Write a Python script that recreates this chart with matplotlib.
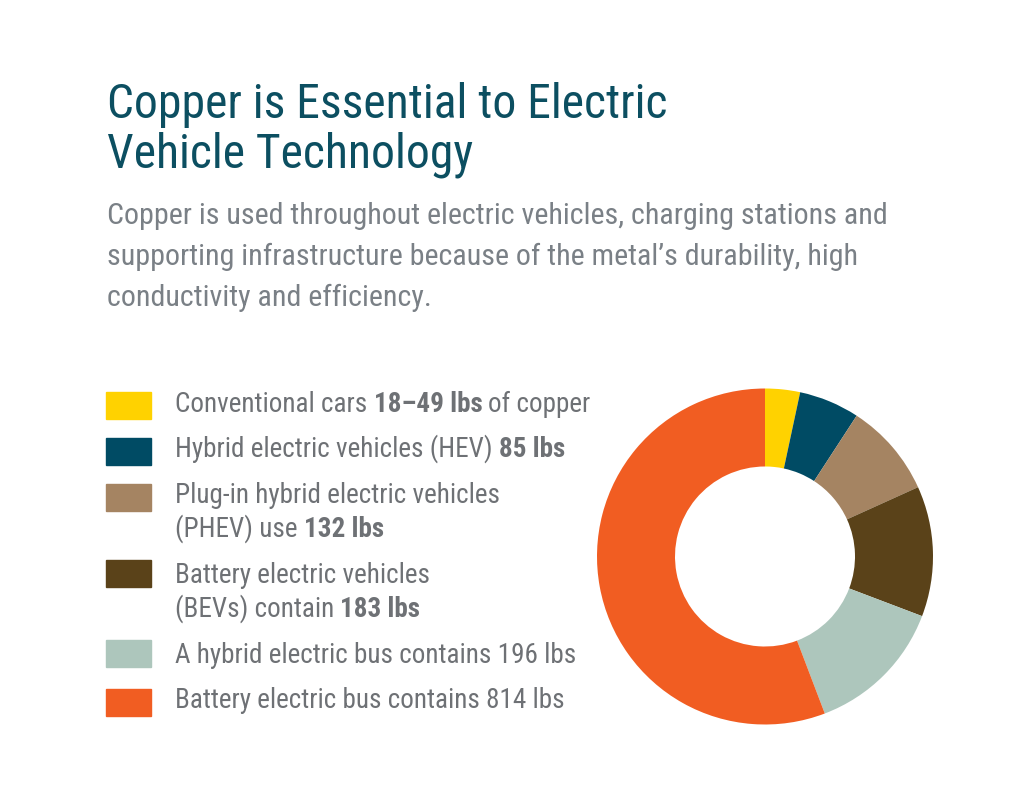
import matplotlib

matplotlib.use("Agg")
import matplotlib.pyplot as plt
from matplotlib import font_manager

# chart data
categories = [
    "Conventional cars",
    "Hybrid electric vehicles (HEV)",
    "Plug-in hybrid electric vehicles (PHEV)",
    "Battery electric vehicles (BEVs)",
    "Hybrid electric bus",
    "Battery electric bus",
]
copper_lbs = [49, 85, 132, 183, 196, 814]
slice_colors = ["#FFD200", "#004B64", "#A58462", "#5A4219", "#ADC6BC", "#F15D22"]

# legend text, one list of lines per item, (text, bold) segments per line
legend_text = [
    [[("Conventional cars", False), ("18–49 lbs", True), ("of copper", False)]],
    [[("Hybrid electric vehicles (HEV)", False), ("85 lbs", True)]],
    [[("Plug-in hybrid electric vehicles", False)],
     [("(PHEV) use", False), ("132 lbs", True)]],
    [[("Battery electric vehicles", False)],
     [("(BEVs) contain", False), ("183 lbs", True)]],
    [[("A hybrid electric bus contains 196 lbs", False)]],
    [[("Battery electric bus contains 814 lbs", False)]],
]

title_lines = ["Copper is Essential to Electric", "Vehicle Technology"]
subtitle_lines = [
    "Copper is used throughout electric vehicles, charging stations and",
    "supporting infrastructure because of the metal’s durability, high",
    "conductivity and efficiency.",
]

W, H = 1024, 789
TITLE_COLOR = "#0C4F61"
SUB_COLOR = "#7A8086"
TEXT_COLOR = "#6E7175"

# pick a narrow font if one is around
names = {f.name for f in font_manager.fontManager.ttflist}
dejavu_cond = any(
    f.name == "DejaVu Sans" and "condensed" in str(f.stretch).lower()
    for f in font_manager.fontManager.ttflist
)
FAMILY, STRETCH = "DejaVu Sans", "normal"
for cand in ["Roboto Condensed", "Liberation Sans Narrow", "Open Sans Condensed"]:
    if cand in names:
        FAMILY = cand
        break
else:
    if dejavu_cond:
        STRETCH = "condensed"
    elif "Roboto" in names:
        FAMILY = "Roboto"

fig = plt.figure(figsize=(W / 100, H / 100), dpi=100)
fig.patch.set_facecolor("white")
renderer = fig.canvas.get_renderer()


def fx(px):
    return px / W


def fy(py):
    return 1 - py / H


def put(x, y, s, size, color, weight="normal"):
    return fig.text(
        fx(x), fy(y), s, fontsize=size, color=color, family=FAMILY,
        fontstretch=STRETCH, fontweight=weight,
        ha="left", va="baseline",
    )


def width_px(t):
    return t.get_window_extent(renderer).width


def fit_size(s, target, weight="normal"):
    t = put(0, 0, s, 20, "k", weight)
    w = width_px(t)
    t.remove()
    return 20 * target / w


# title
title_size = fit_size(title_lines[0], 666 - 107)
for i, line in enumerate(title_lines):
    put(107, 118 + i * 50, line, title_size, TITLE_COLOR)

# subtitle
sub_size = fit_size(subtitle_lines[0], 886 - 107)
for i, line in enumerate(subtitle_lines):
    put(107, 224 + i * 41, line, sub_size, SUB_COLOR)

# legend
leg_size = fit_size(legend_text[5][0][0][0], 563 - 175)
t = put(0, 0, "a a", leg_size, "k")
t2 = put(0, 0, "aa", leg_size, "k")
space_w = width_px(t) - width_px(t2)
t.remove()
t2.remove()

swatch_y = [405, 452, 497, 573, 653, 702]
line_base = [[412], [457], [503, 537], [583, 617], [663], [708]]
for k, item in enumerate(legend_text):
    fig.patches.append(
        plt.Rectangle(
            (fx(106), fy(swatch_y[k] + 13.5)), 45 / W, 27 / H,
            transform=fig.transFigure, color=slice_colors[k], figure=fig,
        )
    )
    for j, segs in enumerate(item):
        x = 175
        for s, bold in segs:
            txt = put(x, line_base[k][j], s, leg_size, TEXT_COLOR,
                      "bold" if bold else "normal")
            x += width_px(txt) + space_w

# donut
cx, cy, R = 765, 556.5, 168
box = 175
ax = fig.add_axes([fx(cx - box), fy(cy + box), 2 * box / W, 2 * box / H])
ax.pie(
    copper_lbs,
    colors=slice_colors,
    startangle=90,
    counterclock=False,
    radius=R / box,
    wedgeprops=dict(width=(R - 90) / box, linewidth=0),
)
ax.set_xlim(-1, 1)
ax.set_ylim(-1, 1)
ax.set_aspect("equal")
ax.axis("off")

fig.savefig("out.png", dpi=100, facecolor="white")
